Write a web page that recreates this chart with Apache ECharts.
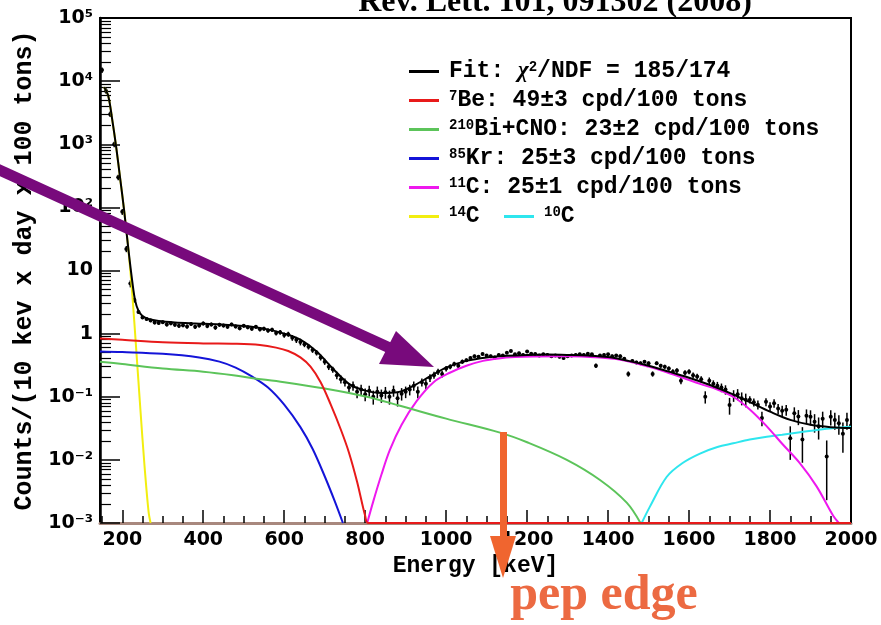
<!DOCTYPE html>
<html>
<head>
    <meta charset="utf-8">
    <title>Borexino spectrum</title>
    <script src="https://cdn.jsdelivr.net/npm/echarts@6.0.0/dist/echarts.min.js"></script>
    <style>
        html, body { margin: 0; padding: 0; background: #fff; }
        #chart { width: 881px; height: 625px; }
    </style>
</head>
<body>
<div id="chart"></div>
<script type="text/javascript">
    // ---- data ----
    var pointE = [
        150, 160, 170, 180, 190, 200, 210, 220, 230, 240,
        250, 260, 270, 280, 290, 300, 310, 320, 330, 340,
        350, 360, 370, 380, 390, 400, 410, 420, 430, 440,
        450, 460, 470, 480, 490, 500, 510, 520, 530, 540,
        550, 560, 570, 580, 590, 600, 610, 620, 630, 640,
        650, 660, 670, 680, 690, 700, 710, 720, 730, 740,
        750, 760, 770, 780, 790, 800, 810, 820, 830, 840,
        850, 860, 870, 880, 890, 900, 910, 920, 930, 940,
        950, 960, 970, 980, 990, 1000, 1010, 1020, 1030, 1040,
        1050, 1060, 1070, 1080, 1090, 1100, 1110, 1120, 1130, 1140,
        1150, 1160, 1170, 1180, 1190, 1200, 1210, 1220, 1230, 1240,
        1250, 1260, 1270, 1280, 1290, 1300, 1310, 1320, 1330, 1340,
        1350, 1360, 1370, 1380, 1390, 1400, 1410, 1420, 1430, 1440,
        1450, 1460, 1470, 1480, 1490, 1500, 1510, 1520, 1530, 1540,
        1550, 1560, 1570, 1580, 1590, 1600, 1610, 1620, 1630, 1640,
        1650, 1660, 1670, 1680, 1690, 1700, 1710, 1720, 1730, 1740,
        1750, 1760, 1770, 1780, 1790, 1800, 1810, 1820, 1830, 1840,
        1850, 1860, 1870, 1880, 1890, 1900, 1910, 1920, 1930, 1940,
        1950, 1960, 1970, 1980, 1990, 2000
    ];
    var pointY = [
        15000, 7000, 3000, 1000, 300, 85, 22, 6.2, 3.4, 2.2,
        1.8, 1.7, 1.62, 1.5, 1.48, 1.52, 1.4, 1.46, 1.38, 1.33,
        1.36, 1.3, 1.42, 1.28, 1.35, 1.45, 1.32, 1.4, 1.25, 1.38,
        1.34, 1.28, 1.4, 1.3, 1.22, 1.33, 1.26, 1.2, 1.28, 1.17,
        1.2, 1.12, 1.15, 1.02, 1.05, 0.95, 0.98, 0.86, 0.8, 0.74,
        0.68, 0.62, 0.55, 0.5, 0.42, 0.36, 0.3, 0.27, 0.22, 0.19,
        0.17, 0.14, 0.15, 0.12, 0.13, 0.11, 0.125, 0.1, 0.12, 0.105,
        0.118, 0.1, 0.125, 0.095, 0.112, 0.12, 0.13, 0.15, 0.12, 0.17,
        0.16, 0.2, 0.22, 0.25, 0.23, 0.28, 0.3, 0.33, 0.31, 0.36,
        0.38, 0.41, 0.44, 0.43, 0.475, 0.45, 0.44, 0.42, 0.46, 0.45,
        0.5, 0.53, 0.47, 0.49, 0.46, 0.52, 0.48, 0.475, 0.45, 0.47,
        0.46, 0.44, 0.45, 0.43, 0.41, 0.44, 0.45, 0.46, 0.47, 0.46,
        0.48, 0.47, 0.31, 0.45, 0.46, 0.47, 0.44, 0.45, 0.44, 0.4,
        0.23, 0.37, 0.35, 0.34, 0.36, 0.34, 0.23, 0.34, 0.31, 0.3,
        0.28, 0.25, 0.26, 0.18, 0.24, 0.25, 0.22, 0.21, 0.19, 0.1,
        0.18, 0.16, 0.15, 0.14, 0.13, 0.074, 0.105, 0.11, 0.095, 0.09,
        0.09, 0.082, 0.075, 0.046, 0.083, 0.07, 0.079, 0.065, 0.06, 0.062,
        0.022, 0.055, 0.0485, 0.021, 0.05, 0.048, 0.04, 0.034, 0.045, 0.0113,
        0.048, 0.043, 0.038, 0.026, 0.043, 0.035
    ];
    var pointErr = [
        1500, 700, 300, 100, 30, 9, 2.5, 0.8, 0.3, 0.15,
        0.1, 0.1, 0.1, 0.1, 0.1, 0.1, 0.1, 0.1, 0.1, 0.1,
        0.1, 0.1, 0.1, 0.1, 0.1, 0.1, 0.1, 0.1, 0.1, 0.1,
        0.09, 0.09, 0.09, 0.09, 0.09, 0.09, 0.09, 0.09, 0.09, 0.09,
        0.09, 0.09, 0.09, 0.09, 0.09, 0.09, 0.09, 0.09, 0.09, 0.09,
        0.07, 0.06, 0.055, 0.05, 0.045, 0.04, 0.035, 0.03, 0.03, 0.028,
        0.025, 0.025, 0.025, 0.025, 0.025, 0.025, 0.025, 0.025, 0.025, 0.025,
        0.025, 0.025, 0.025, 0.025, 0.025, 0.025, 0.025, 0.025, 0.025, 0.025,
        0.028, 0.028, 0.028, 0.028, 0.028, 0.028, 0.028, 0.028, 0.028, 0.028,
        0.025, 0.025, 0.025, 0.025, 0.025, 0.025, 0.025, 0.025, 0.025, 0.025,
        0.025, 0.025, 0.025, 0.025, 0.025, 0.025, 0.025, 0.025, 0.025, 0.025,
        0.025, 0.025, 0.025, 0.025, 0.025, 0.025, 0.025, 0.025, 0.025, 0.025,
        0.025, 0.025, 0.025, 0.025, 0.025, 0.025, 0.025, 0.025, 0.025, 0.025,
        0.022, 0.022, 0.022, 0.022, 0.022, 0.022, 0.022, 0.022, 0.022, 0.022,
        0.022, 0.022, 0.022, 0.022, 0.022, 0.022, 0.022, 0.022, 0.022, 0.022,
        0.022, 0.022, 0.022, 0.022, 0.022, 0.022, 0.022, 0.022, 0.022, 0.022,
        0.012, 0.012, 0.012, 0.012, 0.012, 0.012, 0.012, 0.012, 0.012, 0.012,
        0.012, 0.013, 0.013, 0.012, 0.013, 0.013, 0.013, 0.013, 0.013, 0.009,
        0.013, 0.013, 0.013, 0.013, 0.013, 0.013
    ];

    // fitted curves: [energy keV, counts]
    var fitCurve = [[155, 8000], [165, 6000], [175, 2500], [185, 900], [195, 280], [205, 85], [215, 22], [225, 6.5],
        [232, 3.3], [240, 2.3], [250, 1.9], [265, 1.7], [290, 1.58], [330, 1.5], [380, 1.45], [440, 1.4], [500, 1.32],
        [550, 1.2], [600, 1.0], [640, 0.8], [680, 0.52], [720, 0.28], [760, 0.16], [800, 0.125], [840, 0.115],
        [880, 0.118], [920, 0.15], [960, 0.21], [1000, 0.29], [1050, 0.37], [1100, 0.42], [1150, 0.445], [1200, 0.46],
        [1250, 0.465], [1300, 0.46], [1350, 0.45], [1400, 0.425], [1450, 0.37], [1500, 0.31], [1550, 0.25],
        [1600, 0.2], [1650, 0.155], [1700, 0.115], [1750, 0.082], [1800, 0.058], [1850, 0.043], [1900, 0.036],
        [1950, 0.033], [2000, 0.032]];
    var be7Curve = [[145, 0.84], [200, 0.8], [300, 0.73], [400, 0.7], [480, 0.69], [540, 0.66], [580, 0.6], [610, 0.53],
        [640, 0.42], [665, 0.3], [690, 0.17], [715, 0.075], [740, 0.03], [760, 0.013], [780, 0.0045], [800, 0.0013],
        [808, 0.001], [2000, 0.001]];
    var biCnoCurve = [[145, 0.36], [200, 0.33], [300, 0.28], [400, 0.25], [474, 0.22], [515, 0.2], [600, 0.17],
        [700, 0.135], [804, 0.1], [886, 0.072], [1000, 0.045], [1133, 0.027], [1200, 0.019], [1298, 0.01],
        [1380, 0.0048], [1446, 0.0021], [1480, 0.001]];
    var kr85Curve = [[145, 0.52], [200, 0.51], [300, 0.48], [390, 0.42], [440, 0.36], [480, 0.29], [520, 0.21],
        [560, 0.14], [600, 0.075], [640, 0.033], [670, 0.015], [700, 0.0055], [725, 0.0022], [745, 0.001]];
    var c11Curve = [[805, 0.001], [820, 0.0022], [840, 0.0058], [861, 0.0144], [890, 0.036], [927, 0.085], [969, 0.17],
        [1009, 0.24], [1050, 0.31], [1091, 0.37], [1130, 0.405], [1170, 0.425], [1215, 0.435], [1300, 0.44],
        [1380, 0.42], [1420, 0.395], [1462, 0.35], [1500, 0.3], [1545, 0.245], [1585, 0.2], [1627, 0.16],
        [1670, 0.13], [1709, 0.1], [1750, 0.063], [1792, 0.034], [1830, 0.018], [1874, 0.0088], [1915, 0.0038],
        [1956, 0.0013], [1970, 0.001]];
    var c14Curve = [[155, 8000], [165, 6000], [175, 2500], [185, 900], [195, 280], [205, 85], [215, 22], [225, 4],
        [235, 0.5], [245, 0.06], [255, 0.008], [265, 0.0015], [270, 0.001]];
    var c10Curve = [[1483, 0.001], [1503, 0.0018], [1545, 0.0054], [1585, 0.009], [1627, 0.0126], [1670, 0.016],
        [1709, 0.0183], [1750, 0.021], [1792, 0.0233], [1830, 0.025], [1874, 0.0273], [1920, 0.03], [1960, 0.032],
        [2000, 0.0335]];

    // axes
    var xMajorTicks = [200, 400, 600, 800, 1000, 1200, 1400, 1600, 1800, 2000];
    var xMinorTicks = [150, 250, 300, 350, 450, 500, 550, 650, 700, 750, 850, 900, 950, 1050, 1100, 1150,
        1250, 1300, 1350, 1450, 1500, 1550, 1650, 1700, 1750, 1850, 1900, 1950];
    var yMajorTicks = [0.001, 0.01, 0.1, 1, 10, 100, 1000, 10000, 100000];
    var yTickLabels = ['10⁻³', '10⁻²', '10⁻¹', '1', '10', '10²', '10³', '10⁴', '10⁵'];
    var yMinorSteps = [2, 3, 4, 5, 6, 7, 8, 9];

    var yMinorTicks = [];
    for (var i = 0; i < yMajorTicks.length - 1; i++) {
        for (var j = 0; j < yMinorSteps.length; j++) {
            yMinorTicks.push(yMajorTicks[i] * yMinorSteps[j]);
        }
    }

    var pointRows = pointE.map(function (e, k) {
        return [e, pointY[k], pointErr[k]];
    });

    var MONO = '"Liberation Mono", "DejaVu Sans Mono", monospace';

    function yLabel(v) {
        for (var k = 0; k < yMajorTicks.length; k++) {
            if (Math.abs(Math.log10(v) - Math.log10(yMajorTicks[k])) < 0.01) return yTickLabels[k];
        }
        return '';
    }

    function curve(name, data, color, z) {
        return {
            name: name,
            type: 'line',
            data: data,
            symbol: 'none',
            showSymbol: false,
            smooth: 0.35,
            clip: true,
            z: z,
            lineStyle: { color: color, width: 2 },
            itemStyle: { color: color }
        };
    }

    var legendNames = {
        fit: 'Fit: {c|χ}{s|2}/NDF = 185/174',
        be7: '{s|7}Be: 49±3 cpd/100 tons',
        bicno: '{s|210}Bi+CNO: 23±2 cpd/100 tons',
        kr85: '{s|85}Kr: 25±3 cpd/100 tons',
        c11: '{s|11}C: 25±1 cpd/100 tons',
        c14: '{s|14}C',
        c10: '{s|10}C'
    };
    var legendText = {
        fontFamily: MONO, fontWeight: 'bold', fontSize: 23, color: '#000', lineHeight: 22,
        padding: [0, 0, 0, 5],
        rich: {
            s: { fontFamily: MONO, fontWeight: 'bold', fontSize: 14, lineHeight: 14, verticalAlign: 'top', color: '#000' },
            c: { fontFamily: '"Liberation Serif", serif', fontStyle: 'italic', fontSize: 23, lineHeight: 22, color: '#000' }
        }
    };

    var myChart = echarts.init(document.getElementById('chart'), null, { renderer: 'canvas' });
    myChart.setOption({
        animation: false,
        backgroundColor: '#fff',
        grid: { left: 100, right: 30, top: 18, bottom: 102, show: true, borderColor: '#000', borderWidth: 2, backgroundColor: 'transparent' },
        legend: [{
            orient: 'vertical', left: 404, top: 55, itemWidth: 30, itemHeight: 3, itemGap: 6,
            icon: 'rect', selectedMode: false,
            data: ['fit', 'be7', 'bicno', 'kr85', 'c11', 'c14'],
            formatter: function (n) { return legendNames[n]; },
            textStyle: legendText
        }, {
            orient: 'vertical', left: 499, top: 200, itemWidth: 30, itemHeight: 3,
            icon: 'rect', selectedMode: false,
            data: ['c10'],
            formatter: function (n) { return legendNames[n]; },
            textStyle: legendText
        }],
        xAxis: [{
            type: 'value', min: 145, max: 2000, position: 'bottom',
            name: 'Energy [keV]', nameLocation: 'middle', nameGap: 30,
            nameTextStyle: { fontFamily: MONO, fontWeight: 'bold', fontSize: 23, color: '#000' },
            axisLine: { show: true, lineStyle: { color: '#a8887e', width: 3 } },
            axisTick: { show: true, inside: true, length: 13, customValues: xMajorTicks, lineStyle: { color: '#000', width: 1.5 } },
            axisLabel: { show: true, customValues: xMajorTicks, formatter: function (v) { return String(v); },
                margin: 8, color: '#000', fontFamily: '"DejaVu Sans", sans-serif', fontWeight: 'bold', fontSize: 19 },
            splitLine: { show: false }
        }, {
            type: 'value', min: 145, max: 2000, position: 'bottom',
            axisLine: { show: false },
            axisTick: { show: true, inside: true, length: 7, customValues: xMinorTicks, lineStyle: { color: '#000', width: 1.5 } },
            axisLabel: { show: false },
            splitLine: { show: false }
        }],
        yAxis: [{
            type: 'log', logBase: 10, min: 0.001, max: 100000, position: 'left',
            name: 'Counts/(10 kev x day x 100 tons)', nameLocation: 'middle', nameGap: 50, nameRotate: 90,
            nameTextStyle: { fontFamily: MONO, fontWeight: 'bold', fontSize: 25, color: '#000' },
            axisLine: { show: true, lineStyle: { color: '#000', width: 2.5 } },
            axisTick: { show: true, inside: true, length: 20, customValues: yMajorTicks, lineStyle: { color: '#000', width: 1.5 } },
            axisLabel: { show: true, customValues: yMajorTicks, formatter: yLabel, margin: 7, color: '#000', fontFamily: '"DejaVu Sans", sans-serif', fontWeight: 'bold', fontSize: 19 },
            splitLine: { show: false }
        }, {
            type: 'log', logBase: 10, min: 0.001, max: 100000, position: 'left',
            axisLine: { show: false },
            axisTick: { show: true, inside: true, length: 11, customValues: yMinorTicks, lineStyle: { color: '#000', width: 1.2 } },
            axisLabel: { show: false },
            splitLine: { show: false }
        }],
        series: [{
            name: 'data',
            type: 'custom',
            data: pointRows,
            encode: { x: 0, y: 1 },
            clip: true,
            z: 2,
            renderItem: function (params, api) {
                var e = api.value(0), y = api.value(1), s = api.value(2);
                var p = api.coord([e, y]);
                var hi = api.coord([e, y + s]);
                var lo = api.coord([e, Math.max(y - s, 0.001)]);
                return {
                    type: 'group',
                    children: [{
                        type: 'line',
                        shape: { x1: p[0], y1: hi[1], x2: p[0], y2: lo[1] },
                        style: { stroke: '#000', lineWidth: 1.5 }
                    }, {
                        type: 'circle',
                        shape: { cx: p[0], cy: p[1], r: 2 },
                        style: { fill: '#000' }
                    }]
                };
            }
        },
            curve('c10', c10Curve, '#2ee6ee', 3),
            curve('c14', c14Curve, '#f2ee10', 3),
            curve('c11', c11Curve, '#ee18ee', 4),
            curve('kr85', kr85Curve, '#1414d8', 4),
            curve('bicno', biCnoCurve, '#5cc45a', 4),
            curve('be7', be7Curve, '#e81a1a', 5),
            curve('fit', fitCurve, '#000000', 6)
        ],
        graphic: [{
            type: 'text', z: 100,
            style: { x: 555, y: 3, text: 'Rev. Lett. 101, 091302 (2008)', align: 'center', verticalAlign: 'middle',
                font: 'bold 32px "Liberation Serif", serif', fill: '#000' }
        }, {
            // purple arrow shaft
            type: 'polyline', z: 100,
            shape: { points: [[-5, 168], [392, 349]] },
            style: { stroke: '#780a7c', lineWidth: 11 }
        }, {
            type: 'polygon', z: 100,
            shape: { points: [[379, 364], [396, 331], [434, 367]] },
            style: { fill: '#780a7c' }
        }, {
            // orange pep-edge arrow
            type: 'rect', z: 100,
            shape: { x: 500, y: 432, width: 7, height: 106 },
            style: { fill: '#f0652f' }
        }, {
            type: 'polygon', z: 100,
            shape: { points: [[490, 536], [516, 536], [503, 578]] },
            style: { fill: '#f0652f' }
        }, {
            type: 'text', z: 100,
            style: { x: 604, y: 596, text: 'pep edge', align: 'center', verticalAlign: 'middle',
                font: 'bold 50px "Liberation Serif", serif', fill: '#ec6a42' }
        }]
    });
</script>
</body>
</html>
